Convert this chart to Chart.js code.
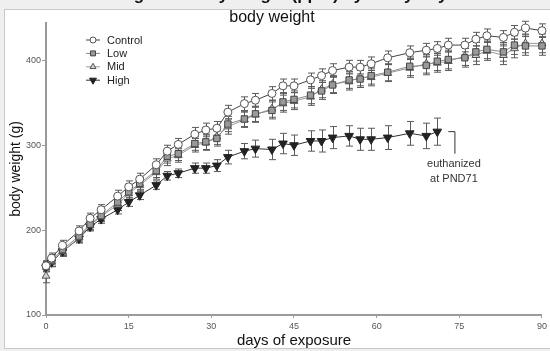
<!DOCTYPE html>
<html>
<head>
<meta charset="utf-8">
<script src="https://cdn.jsdelivr.net/npm/chart.js@4.4.0/dist/chart.umd.min.js"></script>
<style>
  html, body { margin: 0; padding: 0; background: #efefef; }
  #wrap { width: 550px; height: 351px; position: relative; }
</style>
</head>
<body>
<div id="wrap"><canvas id="bw" width="550" height="351"></canvas></div>
<script>
// days of exposure
const days = [0, 1, 3, 6, 8, 10, 13, 15, 17, 20, 22, 24, 27, 29, 31, 33, 36, 38, 41, 43,
              45, 48, 50, 52, 55, 57, 59, 62, 66, 69, 71, 73, 76, 78, 80, 83, 85, 87, 90];

// mean body weight (g)
const control = [158, 167, 182, 199, 214, 224, 240, 251, 260, 277, 293, 301, 313, 318, 320, 339, 349, 353, 361, 370,
                 370, 377, 382, 388, 392, 392, 396, 403, 409, 412, 414, 418, 418, 425, 429, 427, 433, 438, 435];
const low = [157, 165, 177, 193, 207, 217, 233, 245, 255, 270, 287, 290, 302, 304, 308, 325, 331, 337, 341, 351,
             354, 359, 364, 371, 377, 378, 382, 386, 393, 394, 399, 401, 403, 410, 413, 410, 418, 417, 417];
const mid = [146, 163, 175, 191, 206, 216, 230, 243, 253, 268, 284, 288, 300, 303, 310, 322, 330, 336, 343, 349,
             352, 357, 366, 372, 375, 380, 380, 385, 391, 396, 397, 399, 405, 406, 411, 406, 414, 420, 420];
// high dose group euthanized at PND71
const high = [156, 162, 175, 190, 204, 213, 224, 233, 241, 253, 264, 267, 273, 273, 276, 286, 293, 296, 295, 302,
              300, 305, 305, 309, 311, 307, 307, 309, 314, 311, 316];

// error bars
const controlErr = [6, 6, 6, 6, 6, 6, 7, 7, 7, 7, 7, 7, 8, 8, 8, 8, 8, 8, 8, 8,
                    8, 8, 8, 8, 8, 8, 8, 8, 8, 8, 8, 8, 8, 8, 8, 8, 8, 8, 8];
const lowErr = [6, 6, 6, 6, 6, 6, 7, 7, 7, 8, 8, 8, 8, 9, 9, 9, 9, 9, 10, 10,
                10, 10, 10, 10, 10, 10, 10, 10, 11, 11, 11, 11, 11, 11, 11, 11, 11, 11, 11];
const midErr = [8, 6, 6, 6, 6, 6, 7, 7, 7, 8, 8, 8, 8, 9, 9, 9, 9, 9, 10, 10,
                10, 10, 10, 10, 10, 10, 10, 10, 11, 11, 11, 11, 11, 11, 11, 11, 11, 11, 11];
const highErr = [5, 5, 5, 5, 5, 5, 5, 5, 5, 5, 5, 5, 6, 6, 7, 8, 9, 10, 12, 12,
                 12, 12, 13, 13, 12, 13, 13, 14, 14, 15, 16];

const xTicks = [0, 15, 30, 45, 60, 75, 90];
const yTicks = [100, 200, 300, 400];
const seriesNames = ['Control', 'Low', 'Mid', 'High'];

const FONT = '"Liberation Sans", Arial, sans-serif';

function toPoints(vals) {
    return vals.map((v, i) => ({ x: days[i], y: v }));
}

// Styles for each group
const styles = {
    Control: { pointStyle: 'circle', radius: 4, rotation: 0, fill: '#ffffff', stroke: '#555555', line: '#444444' },
    Low:     { pointStyle: 'rect', radius: 4.5, rotation: 0, fill: '#9a9a9a', stroke: '#444444', line: '#8a8a8a' },
    Mid:     { pointStyle: 'triangle', radius: 4.5, rotation: 0, fill: '#d0d0d0', stroke: '#555555', line: '#9a9a9a' },
    High:    { pointStyle: 'triangle', radius: 5, rotation: 180, fill: '#222222', stroke: '#222222', line: '#333333' }
};

function makeDataset(name, vals, errs) {
    const s = styles[name];
    return {
        label: name,
        data: toPoints(vals),
        errors: errs,
        borderColor: s.line,
        borderWidth: 1,
        backgroundColor: s.fill,
        pointStyle: s.pointStyle,
        pointRadius: s.radius,
        pointRotation: s.rotation,
        pointBackgroundColor: s.fill,
        pointBorderColor: s.stroke,
        pointBorderWidth: 1,
        tension: 0,
        clip: false
    };
}

// Frame, caption strip
const framePlugin = {
    id: 'frame',
    beforeDraw(chart) {
        const ctx = chart.ctx;
        ctx.save();
        ctx.fillStyle = '#efefef';
        ctx.fillRect(0, 0, chart.width, chart.height);
        ctx.fillStyle = '#ffffff';
        ctx.fillRect(4.5, 9.5, 560, 339);
        ctx.strokeStyle = '#c8c8c8';
        ctx.lineWidth = 1;
        ctx.strokeRect(4.5, 9.5, 560, 339);
        // clipped figure caption above the panel (only its lower edge shows)
        ctx.beginPath();
        ctx.rect(0, 0, chart.width, 6);
        ctx.clip();
        ctx.fillStyle = '#111111';
        ctx.font = 'bold 17px ' + FONT;
        ctx.textBaseline = 'alphabetic';
        ctx.textAlign = 'right';
        ctx.fillText('Changes in body ', 233, 0);
        ctx.textAlign = 'left';
        ctx.fillText('weight (ppm) by study day and dose', 233, 0);
        ctx.restore();
    }
};

// Error bars drawn from the dataset values through the scales
const errorBarPlugin = {
    id: 'errorBars',
    beforeDatasetsDraw(chart) {
        const ctx = chart.ctx;
        const xs = chart.scales.x, ys = chart.scales.y;
        ctx.save();
        ctx.strokeStyle = '#5a5a5a';
        ctx.lineWidth = 1;
        chart.data.datasets.forEach(ds => {
            ds.data.forEach((p, i) => {
                const e = ds.errors[i];
                const px = Math.round(xs.getPixelForValue(p.x)) + 0.5;
                const top = ys.getPixelForValue(p.y + e);
                const bot = ys.getPixelForValue(p.y - e);
                ctx.beginPath();
                ctx.moveTo(px, top);
                ctx.lineTo(px, bot);
                ctx.moveTo(px - 3.5, top);
                ctx.lineTo(px + 3.5, top);
                ctx.moveTo(px - 3.5, bot);
                ctx.lineTo(px + 3.5, bot);
                ctx.stroke();
            });
        });
        ctx.restore();
    }
};

// Title, legend and the euthanasia note
const overlayPlugin = {
    id: 'overlay',
    afterDraw(chart) {
        const ctx = chart.ctx;
        const xs = chart.scales.x, ys = chart.scales.y;
        ctx.save();

        ctx.fillStyle = '#111111';
        ctx.font = '16px ' + FONT;
        ctx.textAlign = 'center';
        ctx.textBaseline = 'middle';
        ctx.fillText('body weight', 272, 18);

        // legend
        ctx.font = '11px ' + FONT;
        ctx.textAlign = 'left';
        seriesNames.forEach((name, i) => {
            const s = styles[name];
            const y = 40 + i * 13.4;
            ctx.strokeStyle = s.line;
            ctx.lineWidth = 1;
            ctx.beginPath();
            ctx.moveTo(86, y);
            ctx.lineTo(100, y);
            ctx.stroke();
            ctx.fillStyle = s.fill;
            ctx.strokeStyle = s.stroke;
            Chart.helpers.drawPoint(ctx, {
                pointStyle: s.pointStyle, radius: s.radius - 1, rotation: s.rotation, borderWidth: 1
            }, 93, y);
            ctx.fillStyle = '#222222';
            ctx.fillText(name, 107, y + 0.5);
        });

        // bracket marking the end of the High group
        const bx0 = xs.getPixelForValue(73);
        const bx1 = xs.getPixelForValue(74.2);
        const by0 = ys.getPixelForValue(316);
        const by1 = ys.getPixelForValue(290);
        ctx.strokeStyle = '#333333';
        ctx.lineWidth = 1;
        ctx.beginPath();
        ctx.moveTo(bx0, by0);
        ctx.lineTo(bx1, by0);
        ctx.lineTo(bx1, by1);
        ctx.stroke();
        ctx.fillStyle = '#333333';
        ctx.font = '11px ' + FONT;
        ctx.textAlign = 'center';
        ctx.fillText('euthanized', bx1 - 1, 164);
        ctx.fillText('at PND71', bx1 - 1, 179);

        ctx.restore();
    }
};

const ctx = document.getElementById('bw').getContext('2d');
new Chart(ctx, {
    type: 'line',
    data: {
        datasets: [
            makeDataset('Control', control, controlErr),
            makeDataset('Low', low, lowErr),
            makeDataset('Mid', mid, midErr),
            makeDataset('High', high, highErr)
        ]
    },
    options: {
        responsive: false,
        animation: false,
        devicePixelRatio: 1,
        layout: { padding: { left: 0, top: 23, right: 4, bottom: 0 } },
        plugins: {
            legend: { display: false },
            tooltip: { enabled: false }
        },
        scales: {
            x: {
                type: 'linear',
                min: 0,
                max: 90,
                afterBuildTicks(scale) { scale.ticks = xTicks.map(v => ({ value: v })); },
                afterFit(scale) { scale.height = 36; },
                border: { color: '#9a9a9a', width: 2 },
                grid: { drawOnChartArea: false, drawTicks: true, tickLength: 3, color: '#9a9a9a' },
                ticks: { color: '#555555', font: { family: FONT, size: 9 }, padding: 3, maxRotation: 0 },
                title: {
                    display: true, text: 'days of exposure', color: '#111111',
                    font: { family: FONT, size: 15 }, padding: { top: 0, bottom: 1 }
                }
            },
            y: {
                type: 'linear',
                min: 100,
                max: 444,
                afterBuildTicks(scale) { scale.ticks = yTicks.map(v => ({ value: v })); },
                afterFit(scale) { scale.width = 46; },
                border: { color: '#9a9a9a', width: 2 },
                grid: { drawOnChartArea: false, drawTicks: true, tickLength: 4, color: '#9a9a9a' },
                ticks: { color: '#555555', font: { family: FONT, size: 9 }, padding: 1 },
                title: {
                    display: true, text: 'body weight (g)', color: '#111111',
                    font: { family: FONT, size: 14 }, padding: { top: 8, bottom: 0 }
                }
            }
        }
    },
    plugins: [framePlugin, errorBarPlugin, overlayPlugin]
});
</script>
</body>
</html>
